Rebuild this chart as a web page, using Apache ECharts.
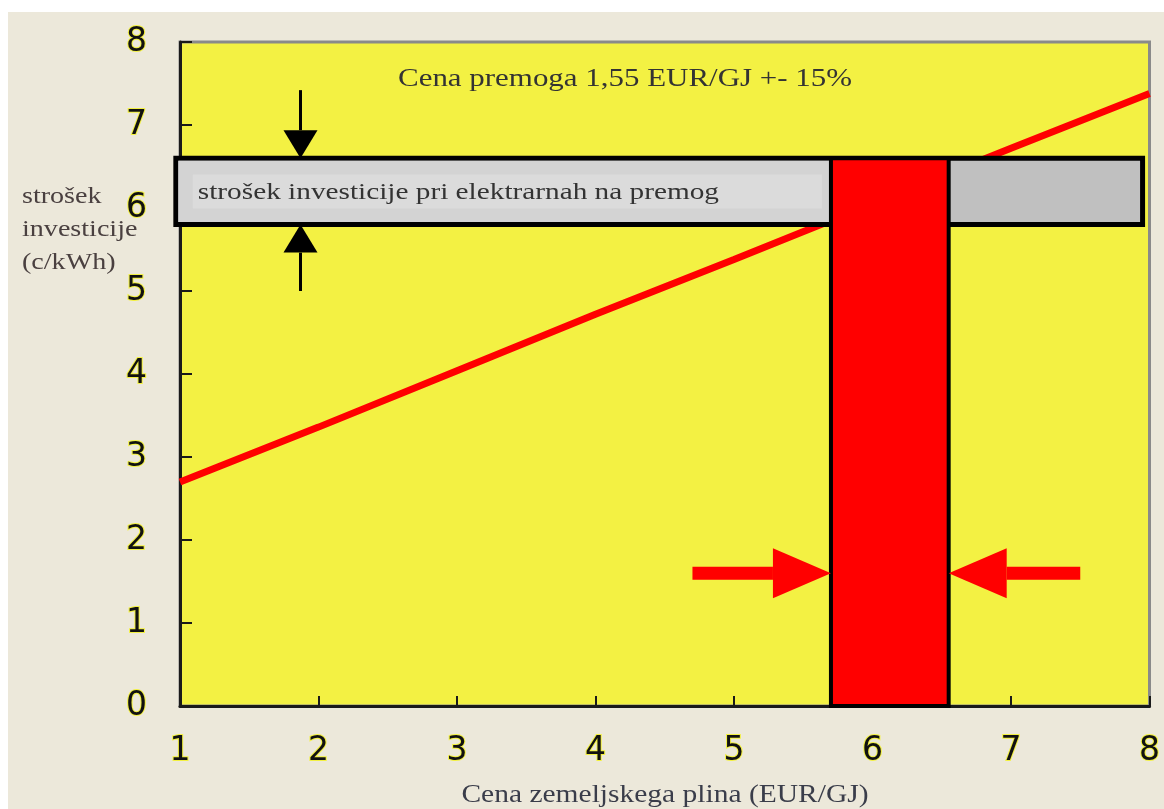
<!DOCTYPE html>
<html>
<head>
<meta charset="utf-8">
<title>Cena zemeljskega plina</title>
<script src="https://cdn.jsdelivr.net/npm/echarts@6/dist/echarts.min.js"></script>
<style>
  html, body { margin: 0; padding: 0; background: #ffffff; }
  #chart { position: absolute; left: 8px; top: 12px; width: 1156px; height: 797px; }
</style>
</head>
<body>
<div id="chart"></div>
<script>
// Gas price (EUR/GJ) and investment cost of a gas plant (c/kWh)
const gasPrice = [1, 2, 3, 4, 5, 6, 7, 8];
const gasPlantCost = [2.7, 3.36, 4.04, 4.72, 5.38, 6.05, 6.72, 7.38];

// Coal plant cost band (c/kWh) and its x extent
const coalCostBand = [5.8, 6.6];
const coalBandX = [0.97, 7.95];

// Gas price range where both plants cost the same
const parityRange = [5.7, 6.55];

// Arrows: [x0, y0, x1, y1]
const bandArrows = [[1.87, 7.42, 1.87, 6.6], [1.87, 5.0, 1.87, 5.8]];
const parityArrows = [[4.7, 1.6, 5.7, 1.6], [7.5, 1.6, 6.55, 1.6]];

const xTicks = [1, 8, 1];   // min, max, step
const yTicks = [0, 8, 1];

const titleText = 'Cena premoga 1,55 EUR/GJ +- 15%';
const bandText = 'strošek investicije pri elektrarnah na premog';
const yName = 'strošek\ninvesticije\n(c/kWh)';
const xName = 'Cena zemeljskega plina (EUR/GJ)';

const serif = '"Liberation Serif", "DejaVu Serif", serif';
const yellow = '#f3f143';
const textColor = '#333333';

function arrowShape(api, item, shaftW, headLen, headHalf, color) {
  const p0 = api.coord([item[0], item[1]]);
  const p1 = api.coord([item[2], item[3]]);
  const dx = p1[0] - p0[0], dy = p1[1] - p0[1];
  const len = Math.sqrt(dx * dx + dy * dy);
  const ux = dx / len, uy = dy / len;
  const nx = -uy, ny = ux;
  const bx = p1[0] - ux * headLen, by = p1[1] - uy * headLen;
  const sw = shaftW / 2;
  return {
    type: 'group',
    children: [
      { type: 'polygon', shape: { points: [
          [p0[0] + nx * sw, p0[1] + ny * sw], [bx + nx * sw, by + ny * sw],
          [bx - nx * sw, by - ny * sw], [p0[0] - nx * sw, p0[1] - ny * sw]] },
        style: { fill: color } },
      { type: 'polygon', shape: { points: [
          [p1[0], p1[1]], [bx + nx * headHalf, by + ny * headHalf], [bx - nx * headHalf, by - ny * headHalf]] },
        style: { fill: color } }
    ]
  };
}

const chart = echarts.init(document.getElementById('chart'), null, { renderer: 'canvas' });

const axisLabelStyle = {
  color: '#111111',
  fontFamily: '"DejaVu Sans", sans-serif',
  fontSize: 33,
  textBorderColor: yellow,
  textBorderWidth: 2
};

chart.setOption({
  backgroundColor: '#ece8da',
  animation: false,
  grid: {
    left: 172, right: 13, top: 30, bottom: 103,
    show: true, backgroundColor: yellow, borderColor: '#8a8a8a', borderWidth: 3
  },
  xAxis: {
    type: 'value', min: xTicks[0], max: xTicks[1], interval: xTicks[2],
    axisLine: { show: true, lineStyle: { color: '#1a1a1a', width: 3 } },
    axisTick: { show: true, inside: true, length: 10, lineStyle: { color: '#1a1a1a', width: 2 } },
    splitLine: { show: false },
    axisLabel: Object.assign({ margin: 29 }, axisLabelStyle)
  },
  yAxis: {
    type: 'value', min: yTicks[0], max: yTicks[1], interval: yTicks[2],
    axisLine: { show: true, lineStyle: { color: '#1a1a1a', width: 3 } },
    axisTick: { show: true, inside: true, length: 12, lineStyle: { color: '#1a1a1a', width: 2 } },
    splitLine: { show: false },
    axisLabel: Object.assign({ margin: 33 }, axisLabelStyle)
  },
  graphic: [
    { type: 'text', x: 617, y: 67, scaleX: 1.19,
      style: { text: titleText, font: '26px ' + serif, fill: textColor, align: 'center', verticalAlign: 'middle' } },
    { type: 'text', x: 14, y: 218, scaleX: 1.17,
      style: { text: yName, font: '24px ' + serif, lineHeight: 33, fill: '#4a4040', align: 'left', verticalAlign: 'middle' } },
    { type: 'text', x: 657, y: 783, scaleX: 1.18,
      style: { text: xName, font: '25px ' + serif, fill: '#3a3d4a', align: 'center', verticalAlign: 'middle' } }
  ],
  series: [
    {
      name: 'plin', type: 'line', z: 2, symbol: 'none', clip: true,
      data: gasPrice.map((x, i) => [x, gasPlantCost[i]]),
      lineStyle: { color: '#ff0000', width: 7 }
    },
    {
      name: 'premog', type: 'custom', z: 3, clip: false,
      data: [[coalBandX[0], coalCostBand[0], coalBandX[1], coalCostBand[1]]],
      renderItem: function (params, api) {
        const a = api.coord([api.value(0), api.value(3)]);
        const b = api.coord([api.value(2), api.value(1)]);
        const splitX = api.coord([parityRange[0], 0])[0];
        const midY = (a[1] + b[1]) / 2;
        return {
          type: 'group',
          children: [
            { type: 'rect', shape: { x: a[0], y: a[1], width: b[0] - a[0], height: b[1] - a[1] },
              style: { fill: '#c0c0c0', stroke: '#000000', lineWidth: 5 } },
            { type: 'rect', shape: { x: a[0] + 2.5, y: a[1] + 2.5, width: splitX - a[0] - 2.5, height: b[1] - a[1] - 5 },
              style: { fill: '#d3d3d3' } },
            { type: 'rect', shape: { x: a[0] + 17, y: midY - 17, width: splitX - a[0] - 26, height: 34 },
              style: { fill: '#dbdbdb' } },
            { type: 'text', x: a[0] + 22, y: midY + 1, scaleX: 1.22,
              style: { text: bandText, font: '24px ' + serif, fill: '#333333', verticalAlign: 'middle' } }
          ]
        };
      }
    },
    {
      name: 'paritetni razpon', type: 'custom', z: 4, clip: false,
      data: [[parityRange[0], 0, parityRange[1], coalCostBand[1]]],
      renderItem: function (params, api) {
        const a = api.coord([api.value(0), api.value(3)]);
        const b = api.coord([api.value(2), api.value(1)]);
        return { type: 'rect', shape: { x: a[0], y: a[1], width: b[0] - a[0], height: b[1] - a[1] },
          style: { fill: '#ff0000', stroke: '#000000', lineWidth: 4 } };
      }
    },
    {
      name: 'puščice pas', type: 'custom', z: 5, clip: false,
      data: bandArrows,
      renderItem: function (params, api) {
        return arrowShape(api, [api.value(0), api.value(1), api.value(2), api.value(3)], 3, 28, 17, '#000000');
      }
    },
    {
      name: 'puščice razpon', type: 'custom', z: 5, clip: false,
      data: parityArrows,
      renderItem: function (params, api) {
        return arrowShape(api, [api.value(0), api.value(1), api.value(2), api.value(3)], 13, 58, 25, '#ff0000');
      }
    }
  ]
});
</script>
</body>
</html>
